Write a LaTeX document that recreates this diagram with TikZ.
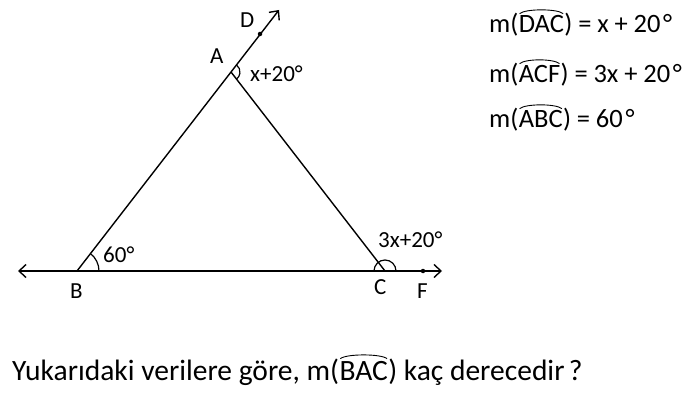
\documentclass[tikz,border=0pt]{standalone}
\usepackage{fontspec}
\setmainfont{Carlito}
\usetikzlibrary{arrows.meta}
\newcommand{\opsp}{\hspace{0.22em}}
\begin{document}
\begin{tikzpicture}[x=1pt,y=-1pt,
  >={Straight Barb[length=7pt,width=13pt]},
  ln/.style={line width=1.4pt},
  arcl/.style={line width=1.2pt},
  lbl/.style={font=\fontsize{23}{26}\selectfont, inner sep=0, anchor=base west},
  eq/.style={font=\fontsize{26.5}{30}\selectfont, inner sep=0, anchor=base west},
  qt/.style={font=\fontsize{29.5}{33}\selectfont, inner sep=0, anchor=base west},
  hat/.style={line width=0.9pt},
  dot/.style={circle, fill, inner sep=0, minimum size=4.5pt}
]
\useasboundingbox (0,0) rectangle (692,414);
\coordinate (B) at (77,271);
\coordinate (C) at (385,271);
\coordinate (A) at (231,72);
\coordinate (D) at (279,10);
\coordinate (L) at (18,271);
\coordinate (R) at (442,271);
\node[dot] (Dd) at (260,34) {};
\node[dot] (F) at (423,271) {};

\draw[ln, ->] (B) -- (D);
\draw[ln] (A) -- (C);
\draw[ln, <->] (L) -- (R);

\draw[arcl] (B) ++(22,0) arc[start angle=0, end angle=-52, radius=22];
\draw[arcl] (A) ++(-52:9) arc[start angle=-52, end angle=52, radius=9];
\draw[arcl] (C) ++(11,0) arc[start angle=0, end angle=-180, radius=11];

\node[lbl] (lD) at (240,28) {D};
\node[lbl] (lA) at (210,64) {A};
\node[lbl] (lx) at (250,82) {x+20°};
\node[lbl] (l60) at (103,262) {60°};
\node[lbl] (l3x) at (378,247) {3x+20°};
\node[lbl] (lB) at (70,298) {B};
\node[lbl] (lC) at (374,294) {C};
\node[lbl] (lF) at (417,298) {F};

% equations
\node[eq] (e1a) at (489,33) {m(};
\node[eq] (e1b) at (e1a.base east) {DAC};
\node[eq] (e1c) at (e1b.base east) {)\opsp=\opsp x\opsp+\opsp 20\hspace{0.1em}°};
\node[eq] (e2a) at (489,83) {m(};
\node[eq] (e2b) at (e2a.base east) {ACF};
\node[eq] (e2c) at (e2b.base east) {)\opsp=\opsp 3x\opsp+\opsp 20\hspace{0.1em}°};
\node[eq] (e3a) at (489,128) {m(};
\node[eq] (e3b) at (e3a.base east) {ABC};
\node[eq] (e3c) at (e3b.base east) {)\opsp=\opsp 60\hspace{0.1em}°};

\node[qt] (q1) at (12,380) {Yukarıdaki verilere göre, m(};
\node[qt] (q2) at (q1.base east) {BAC};
\node[qt] (q3) at (q2.base east) {) kaç derecedir\hspace{0.15em}?};

\foreach \n in {e1b,e2b,e3b,q2}{
  \draw[hat] ([shift={(1,-2)}]\n.north west) .. controls ([shift={(7,-7)}]\n.north west) and ([shift={(-7,-7)}]\n.north east) .. ([shift={(-1,-2)}]\n.north east);
}
\end{tikzpicture}
\end{document}
